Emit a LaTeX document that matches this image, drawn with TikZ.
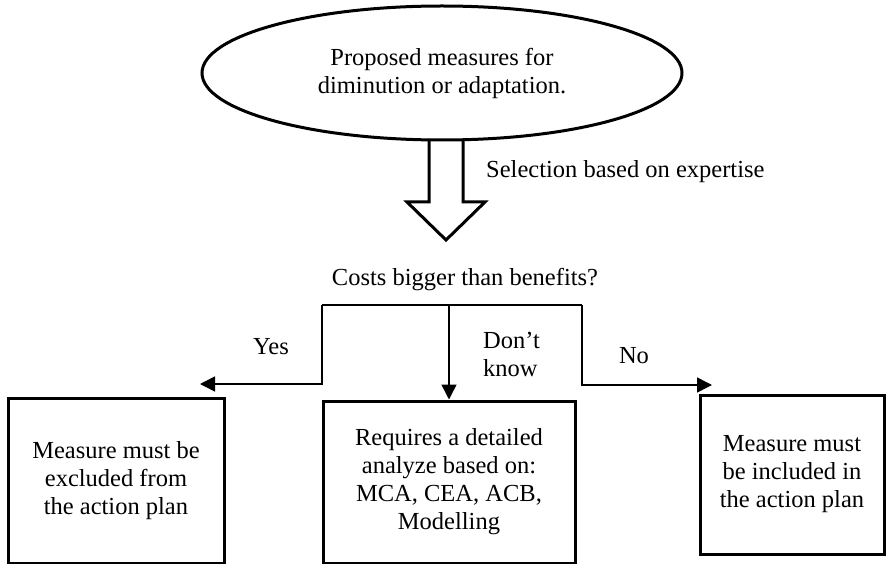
\documentclass[tikz,border=0pt]{standalone}
\usepackage{fontspec}
\setmainfont{Liberation Serif}
\usetikzlibrary{shapes.geometric,arrows.meta}

\begin{document}
\begin{tikzpicture}[x=1pt,y=-1pt,
  txt/.style={font=\fontsize{24.5}{28}\selectfont, inner sep=0pt, align=center},
  decision/.style={draw, line width=3pt, rectangle, txt},
  start/.style={draw, line width=3pt, ellipse, txt},
  link/.style={line width=1.5pt},
  arr/.style={link, -{Triangle[length=15pt,width=15pt]}},
  blockarrow/.style={draw, line width=3pt, fill=white, line join=miter}
]
\useasboundingbox (0,0) rectangle (886,564);

% block arrow under the starting measures
\coordinate (shafttop) at (446,139);
\draw[blockarrow] (shafttop) ++(-17,0) -- ++(0,63) -- ++(-22,0) -- ++(39,38)
  -- ++(39,-38) -- ++(-22,0) -- ++(0,-63);

% starting measures
\node[start, minimum width=480pt, minimum height=134pt] (measures) at (442,73)
  {Proposed measures for\\diminution or adaptation.};

\node[txt, anchor=base west] (selection) at (486,178) {Selection based on expertise};

% decision question
\node[txt, anchor=base] (question) at (465,285) {Costs bigger than benefits?};

% outcome boxes
\node[decision, minimum width=216pt, minimum height=165pt] (exclude) at (116,480.5)
  {Measure must be\\excluded from\\the action plan};
\node[decision, minimum width=252pt, minimum height=162pt] (analyze) at (449,482)
  {Requires a detailed\\analyze based on:\\MCA, CEA, ACB,\\Modelling};
\node[decision, minimum width=184pt, minimum height=159pt] (include) at (792,474.5)
  {Measure must\\be included in\\the action plan};

% branching connectors
\coordinate (jl) at (322,305);
\coordinate (jr) at (582,305);
\coordinate (jm) at (449,305);
\coordinate (yesend) at (200,384);
\coordinate (noend) at (712,385);

\draw[link] (jl) -- (jr);
\draw[arr] (jl) |- (yesend);
\draw[arr] (jr) |- (noend);
\draw[arr] (jm) -- (analyze.north);

% branch labels
\node[txt, anchor=base] (yes) at (271,354) {Yes};
\node[txt, anchor=north west, align=left] (dontknow) at (483,332) {Don’t\\know};
\node[txt, anchor=base] (no) at (634,363) {No};
\end{tikzpicture}
\end{document}
